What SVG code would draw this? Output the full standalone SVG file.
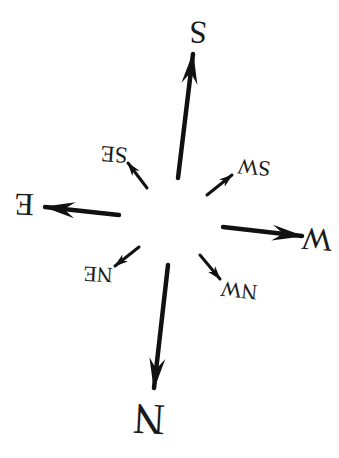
<svg xmlns="http://www.w3.org/2000/svg" width="339" height="458" viewBox="0 0 339 458">
<style>
.lbl{font-family:"Liberation Serif","Times New Roman",serif;fill:#1a1a1a;text-anchor:middle}
.big{stroke:#111;stroke-width:4.5;stroke-linecap:round;fill:none}
.sm{stroke:#111;stroke-width:3;stroke-linecap:round;fill:none}
.head{fill:#111}
</style>
<defs>
<marker id="hB" viewBox="0 0 32 32" refX="30" refY="16" markerWidth="32" markerHeight="32" orient="auto" markerUnits="userSpaceOnUse">
<path d="M0,8 L32,16 L0,24 L11,16 Z" class="head"/>
</marker>
<marker id="hs" viewBox="0 0 14 14" refX="13" refY="7" markerWidth="14" markerHeight="14" orient="auto" markerUnits="userSpaceOnUse">
<path d="M0,2.5 L14,7 L0,11.5 L4,7 Z" class="head"/>
</marker>
</defs>
<rect width="339" height="458" fill="#fff"/>
<g id="connectors">
<line class="big" x1="178" y1="178" x2="193" y2="54" marker-end="url(#hB)"/>
<line class="big" x1="119" y1="215" x2="45" y2="207" marker-end="url(#hB)"/>
<line class="big" x1="223" y1="227" x2="302" y2="236" marker-end="url(#hB)"/>
<line class="big" x1="168" y1="265" x2="154" y2="388" marker-end="url(#hB)"/>
<line class="sm" x1="147" y1="188" x2="128" y2="163" marker-end="url(#hs)"/>
<line class="sm" x1="207" y1="195" x2="232" y2="175" marker-end="url(#hs)"/>
<line class="sm" x1="139" y1="247" x2="115" y2="266" marker-end="url(#hs)"/>
<line class="sm" x1="200" y1="255" x2="220" y2="279" marker-end="url(#hs)"/>
</g>
<g id="S"><text class="lbl" font-size="32" transform="translate(198,33) rotate(183)" dy="0.35em">S</text></g>
<g id="E"><text class="lbl" font-size="32" transform="translate(24,205) rotate(182)" dy="0.35em">E</text></g>
<g id="W"><text class="lbl" font-size="32" transform="translate(317,240) rotate(184)" dy="0.35em">W</text></g>
<g id="N"><text class="lbl" font-size="44" transform="translate(149,420) rotate(183)" dy="0.35em">N</text></g>
<g id="SE"><text class="lbl" font-size="23" transform="translate(114,155) rotate(184)" dy="0.35em">SE</text></g>
<g id="SW"><text class="lbl" font-size="22" transform="translate(254,168) rotate(185)" dy="0.35em">SW</text></g>
<g id="NE"><text class="lbl" font-size="22" transform="translate(98,275) rotate(183)" dy="0.35em">NE</text></g>
<g id="NW"><text class="lbl" font-size="22" transform="translate(239,291) rotate(186)" dy="0.35em">NW</text></g>
</svg>
